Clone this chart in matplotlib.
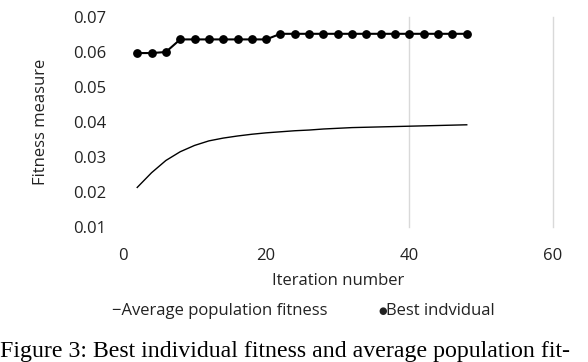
import matplotlib
matplotlib.use("Agg")
import matplotlib.pyplot as plt

# data
iterations = [2, 4, 6, 8, 10, 12, 14, 16, 18, 20, 22, 24,
              26, 28, 30, 32, 34, 36, 38, 40, 42, 44, 46, 48]
best_fitness = [0.0597, 0.0597, 0.0600, 0.0636, 0.0636, 0.0636, 0.0636, 0.0636,
                0.0636, 0.0636, 0.0652, 0.0652, 0.0652, 0.0652, 0.0652, 0.0652,
                0.0652, 0.0652, 0.0652, 0.0652, 0.0652, 0.0652, 0.0652, 0.0652]
avg_fitness = [0.0213, 0.0255, 0.0290, 0.0315, 0.0333, 0.0346, 0.0354, 0.0360,
               0.0365, 0.0369, 0.0372, 0.0375, 0.0377, 0.0380, 0.0382, 0.0384,
               0.0385, 0.0386, 0.0387, 0.0388, 0.0389, 0.0390, 0.0391, 0.0392]
x_ticks = [0, 20, 40, 60]
y_ticks = [0.01, 0.02, 0.03, 0.04, 0.05, 0.06, 0.07]

plt.rcParams['font.family'] = ['Open Sans', 'DejaVu Sans']

fig = plt.figure(figsize=(5.88, 3.62), dpi=100)
ax = fig.add_axes([0.209, 0.373, 0.731, 0.580])

ax.plot(iterations, avg_fitness, color='black', linewidth=1.0)
ax.plot(iterations, best_fitness, color='black', linewidth=1.5,
        marker='o', markersize=5.3)

ax.set_xlim(0, 60)
ax.set_ylim(0.01, 0.07)
ax.set_xticks(x_ticks)
ax.set_yticks(y_ticks)
ax.set_yticklabels([f"{v:.2f}" for v in y_ticks])
ax.tick_params(length=0, labelsize=12, colors='#222222')
ax.tick_params(axis='x', pad=15)
ax.tick_params(axis='y', pad=12)

for s in ax.spines.values():
    s.set_visible(False)

ax.grid(axis='x', color='#d9d9d9', linewidth=1.0)
for g, t in zip(ax.xaxis.get_gridlines(), x_ticks):
    g.set_clip_on(False)
    if t < 40:
        g.set_visible(False)
ax.set_axisbelow(True)

ax.set_xlabel("Iteration number", fontsize=12, color='#222222', va='center')
ax.xaxis.set_label_coords(0.5, -0.257)
ax.set_ylabel("Fitness measure", fontsize=12, color='#222222', va='center')
ax.yaxis.set_label_coords(-0.19, 0.5)

fig.text(0.190, 0.141, "\u2212Average population fitness", fontsize=12,
         color='#222222', va='center')
fig.text(0.643, 0.141, "\u25cf", fontsize=7, family='DejaVu Sans',
         color='#222222', va='center')
fig.text(0.656, 0.141, "Best indvidual", fontsize=12,
         color='#222222', va='center')

fig.text(0.0, 0.0138, "Figure 3: Best individual fitness and average population fit-",
         fontsize=17.2, family='Liberation Serif', va='baseline', ha='left')

fig.savefig("out.png", dpi=100)
